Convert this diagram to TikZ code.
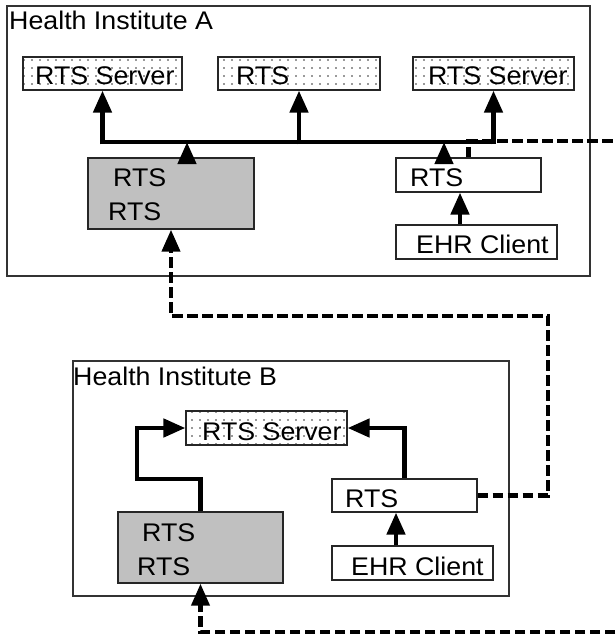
\documentclass[tikz,border=0pt]{standalone}
\usepackage{fontspec}
\setmainfont{Liberation Sans}[FakeStretch=1.05]
\usetikzlibrary{arrows.meta,patterns.meta,calc}
\definecolor{greybox}{HTML}{C0C0C0}
\tikzset{
  frame/.style={draw=black!80,line width=1.1pt,rectangle,inner sep=0pt},
  srv/.style={draw=black!85,line width=1.2pt,rectangle,inner sep=0pt,minimum height=33pt,
    pattern={Dots[distance=8pt,radius=0.8pt]},pattern color=black!80},
  grey/.style={draw=black!85,line width=1.4pt,rectangle,inner sep=0pt,fill=greybox},
  plain/.style={draw=black!85,line width=1.2pt,rectangle,inner sep=0pt,fill=white},
  txt/.style={anchor=base west,inner sep=0pt,font=\fontsize{25.5}{30}\selectfont},
  tip/.tip={Triangle[length=22pt 0 0,width=18pt 0 0]},
  arr/.style={line width=4.6pt,-tip},
  bus/.style={line width=4.6pt},
  dsh/.style={line width=4.2pt,dash pattern=on 10.5pt off 4.5pt},
}
\begin{document}
\begin{tikzpicture}[x=1pt,y=-1pt]
\useasboundingbox (0,0) rectangle (615,636);
\fill[white] (0,0) rectangle (615,636);
% frames
\node[frame,minimum width=583pt,minimum height=270pt] (fA) at (298.5,141) {};
\node[frame,minimum width=436pt,minimum height=235pt] (fB) at (291,478.5) {};
% Institute A boxes
\node[srv,minimum width=159pt] (s1) at (102.5,73.5) {};
\node[srv,minimum width=162pt] (s2) at (299,73.5) {};
\node[srv,minimum width=161pt] (s3) at (493.5,73.5) {};
\node[grey,minimum width=166pt,minimum height=71pt] (gA) at (171,193.5) {};
\node[plain,minimum width=145pt,minimum height=34pt] (rA) at (468.5,175) {};
\node[plain,minimum width=161pt,minimum height=34pt] (eA) at (476.5,242) {};
% Institute B boxes
\node[srv,minimum width=161pt,minimum height=34pt] (sB) at (266.5,428) {};
\node[grey,minimum width=165pt,minimum height=71pt] (gB) at (200.5,547.5) {};
\node[plain,minimum width=145pt,minimum height=33pt] (rB) at (404.5,495.5) {};
\node[plain,minimum width=161pt,minimum height=34pt] (eB) at (412.5,563) {};
% texts
\node[txt] (tA) at (9,30) {Health Institute A};
\node[txt] (t1) at (35,85) {RTS Server};
\node[txt] (t2) at (236,85) {RTS};
\node[txt] (t3) at (428,85) {RTS Server};
\node[txt] (gA1) at (113,186) {RTS};
\node[txt] (gA2) at (108,220) {RTS};
\node[txt] (trA) at (410,186) {RTS};
\node[txt] (teA) at (416,253) {EHR Client};
\node[txt] (tB) at (73,385) {Health Institute B};
\node[txt] (tsB) at (202,440) {RTS Server};
\node[txt] (gB1) at (142,541) {RTS};
\node[txt] (gB2) at (137,575) {RTS};
\node[txt] (trB) at (345,507) {RTS};
\node[txt] (teB) at (351,575) {EHR Client};
% bus in A
\coordinate (busL) at ($(s1.south)+(0,51.5)$);
\coordinate (busR) at (s3.south |- busL);
\coordinate (busM) at (s2.south |- busL);
\draw[bus,line cap=butt] ($(busL)+(-2.3,0)$) -- ($(busR)+(2.3,0)$);
\draw[arr] ($(busL)+(0,2.3)$) -- (s1.south);
\draw[arr] ($(busM)+(0,2.3)$) -- (s2.south);
\draw[arr] ($(busR)+(0,2.3)$) -- (s3.south);
\coordinate (gAo) at ($(gA.north)+(16,0)$);
\draw[arr] (gAo) -- (gAo |- busL);
\coordinate (rAo) at ($(rA.north)+(-24.5,0)$);
\draw[arr] (rAo) -- (rAo |- busL);
\coordinate (eAo) at ($(eA.north)+(-16.5,0)$);
\draw[arr] (eAo) -- (eAo |- rA.south);
% B connectors
\draw[arr] (gB.north) |- (137,479) |- (sB.west);
\draw[arr] (rB.north) |- (sB.east);
\coordinate (eBo) at ($(eB.north)+(-16.5,0)$);
\draw[arr] (eBo) -- (eBo |- rB.south);
% dashed links
\coordinate (cA) at (615,141);
\coordinate (cB) at (615,632);
\draw[dsh] (rA.north) |- (cA);
\draw[dsh,-tip] (rB.east) -| (548,316) -| (gA.south);
\draw[dsh,-tip] (cB) -| (gB.south);
\end{tikzpicture}
\end{document}
